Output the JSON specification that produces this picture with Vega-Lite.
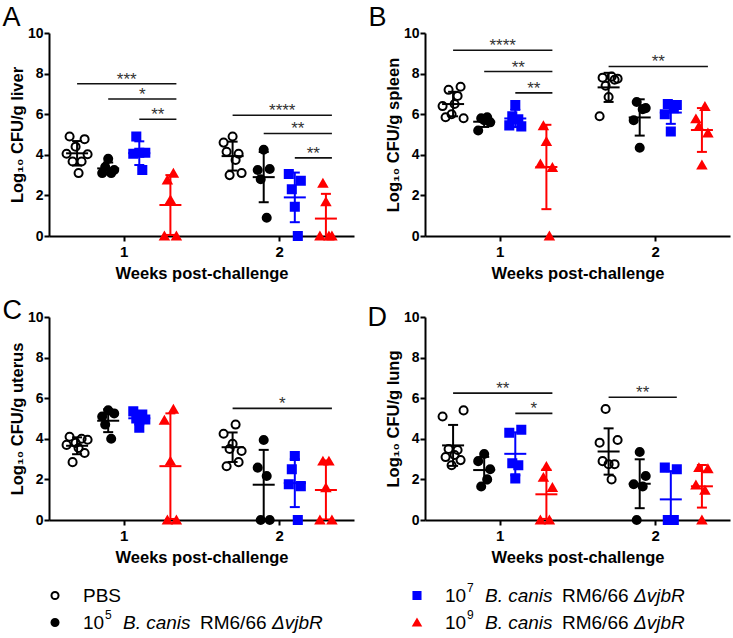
{
  "$schema": "https://vega.github.io/schema/vega-lite/v6.json",
  "padding": {"left": 2, "top": 4, "right": 2, "bottom": 2},
  "background": "white",
  "datasets": {
    "pts": [
      {"panel":"A","week":1,"group":"PBS","animal":1,"value":4.05},{"panel":"A","week":1,"group":"PBS","animal":2,"value":4.9},{"panel":"A","week":1,"group":"PBS","animal":3,"value":3.67},{"panel":"A","week":1,"group":"PBS","animal":4,"value":4.4},{"panel":"A","week":1,"group":"PBS","animal":5,"value":3.1},{"panel":"A","week":1,"group":"PBS","animal":6,"value":3.67},{"panel":"A","week":1,"group":"PBS","animal":7,"value":4.77},{"panel":"A","week":1,"group":"PBS","animal":8,"value":4.03},
      {"panel":"A","week":1,"group":"1e5","animal":1,"value":3.1},{"panel":"A","week":1,"group":"1e5","animal":2,"value":3.4},{"panel":"A","week":1,"group":"1e5","animal":3,"value":3.8},{"panel":"A","week":1,"group":"1e5","animal":4,"value":3.1},{"panel":"A","week":1,"group":"1e5","animal":5,"value":3.25},
      {"panel":"A","week":1,"group":"1e7","animal":1,"value":4.05},{"panel":"A","week":1,"group":"1e7","animal":2,"value":4.9},{"panel":"A","week":1,"group":"1e7","animal":3,"value":4.1},{"panel":"A","week":1,"group":"1e7","animal":4,"value":3.25},{"panel":"A","week":1,"group":"1e7","animal":5,"value":4.1},
      {"panel":"A","week":1,"group":"1e9","animal":1,"value":0},{"panel":"A","week":1,"group":"1e9","animal":2,"value":2.76},{"panel":"A","week":1,"group":"1e9","animal":3,"value":1.78},{"panel":"A","week":1,"group":"1e9","animal":4,"value":3.09},{"panel":"A","week":1,"group":"1e9","animal":5,"value":0},
      {"panel":"A","week":2,"group":"PBS","animal":1,"value":4.6},{"panel":"A","week":2,"group":"PBS","animal":2,"value":4.15},{"panel":"A","week":2,"group":"PBS","animal":3,"value":3.0},{"panel":"A","week":2,"group":"PBS","animal":4,"value":4.9},{"panel":"A","week":2,"group":"PBS","animal":5,"value":3.75},{"panel":"A","week":2,"group":"PBS","animal":6,"value":4.05},{"panel":"A","week":2,"group":"PBS","animal":7,"value":3.1},
      {"panel":"A","week":2,"group":"1e5","animal":1,"value":3.25},{"panel":"A","week":2,"group":"1e5","animal":2,"value":2.8},{"panel":"A","week":2,"group":"1e5","animal":3,"value":4.25},{"panel":"A","week":2,"group":"1e5","animal":4,"value":0.9},{"panel":"A","week":2,"group":"1e5","animal":5,"value":3.3},
      {"panel":"A","week":2,"group":"1e7","animal":1,"value":3.05},{"panel":"A","week":2,"group":"1e7","animal":2,"value":2.3},{"panel":"A","week":2,"group":"1e7","animal":3,"value":1.44},{"panel":"A","week":2,"group":"1e7","animal":4,"value":0},{"panel":"A","week":2,"group":"1e7","animal":5,"value":2.72},
      {"panel":"A","week":2,"group":"1e9","animal":1,"value":0},{"panel":"A","week":2,"group":"1e9","animal":2,"value":2.6},{"panel":"A","week":2,"group":"1e9","animal":3,"value":1.69},{"panel":"A","week":2,"group":"1e9","animal":4,"value":0},{"panel":"A","week":2,"group":"1e9","animal":5,"value":0},

      {"panel":"B","week":1,"group":"PBS","animal":1,"value":6.4},{"panel":"B","week":1,"group":"PBS","animal":2,"value":5.85},{"panel":"B","week":1,"group":"PBS","animal":3,"value":7.2},{"panel":"B","week":1,"group":"PBS","animal":4,"value":6.0},{"panel":"B","week":1,"group":"PBS","animal":5,"value":6.5},{"panel":"B","week":1,"group":"PBS","animal":6,"value":6.9},{"panel":"B","week":1,"group":"PBS","animal":7,"value":7.35},{"panel":"B","week":1,"group":"PBS","animal":8,"value":5.8},
      {"panel":"B","week":1,"group":"1e5","animal":1,"value":5.2},{"panel":"B","week":1,"group":"1e5","animal":2,"value":5.8},{"panel":"B","week":1,"group":"1e5","animal":3,"value":5.7},{"panel":"B","week":1,"group":"1e5","animal":4,"value":5.85},{"panel":"B","week":1,"group":"1e5","animal":5,"value":5.6},
      {"panel":"B","week":1,"group":"1e7","animal":1,"value":5.45},{"panel":"B","week":1,"group":"1e7","animal":2,"value":5.9},{"panel":"B","week":1,"group":"1e7","animal":3,"value":6.45},{"panel":"B","week":1,"group":"1e7","animal":4,"value":5.75},{"panel":"B","week":1,"group":"1e7","animal":5,"value":5.4},
      {"panel":"B","week":1,"group":"1e9","animal":1,"value":3.55},{"panel":"B","week":1,"group":"1e9","animal":2,"value":5.43},{"panel":"B","week":1,"group":"1e9","animal":3,"value":4.65},{"panel":"B","week":1,"group":"1e9","animal":4,"value":0},{"panel":"B","week":1,"group":"1e9","animal":5,"value":3.37},
      {"panel":"B","week":2,"group":"PBS","animal":1,"value":5.9},{"panel":"B","week":2,"group":"PBS","animal":2,"value":7.8},{"panel":"B","week":2,"group":"PBS","animal":3,"value":7.4},{"panel":"B","week":2,"group":"PBS","animal":4,"value":6.85},{"panel":"B","week":2,"group":"PBS","animal":5,"value":7.85},{"panel":"B","week":2,"group":"PBS","animal":6,"value":7.7},{"panel":"B","week":2,"group":"PBS","animal":7,"value":7.75},
      {"panel":"B","week":2,"group":"1e5","animal":1,"value":5.7},{"panel":"B","week":2,"group":"1e5","animal":2,"value":6.6},{"panel":"B","week":2,"group":"1e5","animal":3,"value":4.35},{"panel":"B","week":2,"group":"1e5","animal":4,"value":6.25},{"panel":"B","week":2,"group":"1e5","animal":5,"value":6.3},
      {"panel":"B","week":2,"group":"1e7","animal":1,"value":6.0},{"panel":"B","week":2,"group":"1e7","animal":2,"value":6.5},{"panel":"B","week":2,"group":"1e7","animal":3,"value":5.15},{"panel":"B","week":2,"group":"1e7","animal":4,"value":6.3},{"panel":"B","week":2,"group":"1e7","animal":5,"value":6.45},
      {"panel":"B","week":2,"group":"1e9","animal":1,"value":5.77},{"panel":"B","week":2,"group":"1e9","animal":2,"value":5.39},{"panel":"B","week":2,"group":"1e9","animal":3,"value":3.5},{"panel":"B","week":2,"group":"1e9","animal":4,"value":6.38},{"panel":"B","week":2,"group":"1e9","animal":5,"value":5.07},

      {"panel":"C","week":1,"group":"PBS","animal":1,"value":3.7},{"panel":"C","week":1,"group":"PBS","animal":2,"value":4.1},{"panel":"C","week":1,"group":"PBS","animal":3,"value":2.85},{"panel":"C","week":1,"group":"PBS","animal":4,"value":3.8},{"panel":"C","week":1,"group":"PBS","animal":5,"value":3.55},{"panel":"C","week":1,"group":"PBS","animal":6,"value":4.0},{"panel":"C","week":1,"group":"PBS","animal":7,"value":3.3},{"panel":"C","week":1,"group":"PBS","animal":8,"value":3.95},
      {"panel":"C","week":1,"group":"1e5","animal":1,"value":5.1},{"panel":"C","week":1,"group":"1e5","animal":2,"value":4.7},{"panel":"C","week":1,"group":"1e5","animal":3,"value":5.4},{"panel":"C","week":1,"group":"1e5","animal":4,"value":4.0},{"panel":"C","week":1,"group":"1e5","animal":5,"value":5.25},
      {"panel":"C","week":1,"group":"1e7","animal":1,"value":5.35},{"panel":"C","week":1,"group":"1e7","animal":2,"value":5.0},{"panel":"C","week":1,"group":"1e7","animal":3,"value":4.55},{"panel":"C","week":1,"group":"1e7","animal":4,"value":5.2},{"panel":"C","week":1,"group":"1e7","animal":5,"value":4.95},
      {"panel":"C","week":1,"group":"1e9","animal":1,"value":4.91},{"panel":"C","week":1,"group":"1e9","animal":2,"value":0},{"panel":"C","week":1,"group":"1e9","animal":3,"value":2.9},{"panel":"C","week":1,"group":"1e9","animal":4,"value":5.45},{"panel":"C","week":1,"group":"1e9","animal":5,"value":0},
      {"panel":"C","week":2,"group":"PBS","animal":1,"value":4.25},{"panel":"C","week":2,"group":"PBS","animal":2,"value":2.65},{"panel":"C","week":2,"group":"PBS","animal":3,"value":3.5},{"panel":"C","week":2,"group":"PBS","animal":4,"value":3.75},{"panel":"C","week":2,"group":"PBS","animal":5,"value":4.7},{"panel":"C","week":2,"group":"PBS","animal":6,"value":2.85},{"panel":"C","week":2,"group":"PBS","animal":7,"value":3.4},
      {"panel":"C","week":2,"group":"1e5","animal":1,"value":2.58},{"panel":"C","week":2,"group":"1e5","animal":2,"value":0},{"panel":"C","week":2,"group":"1e5","animal":3,"value":3.94},{"panel":"C","week":2,"group":"1e5","animal":4,"value":2.17},{"panel":"C","week":2,"group":"1e5","animal":5,"value":0},
      {"panel":"C","week":2,"group":"1e7","animal":1,"value":1.76},{"panel":"C","week":2,"group":"1e7","animal":2,"value":2.5},{"panel":"C","week":2,"group":"1e7","animal":3,"value":3.15},{"panel":"C","week":2,"group":"1e7","animal":4,"value":0},{"panel":"C","week":2,"group":"1e7","animal":5,"value":1.67},
      {"panel":"C","week":2,"group":"1e9","animal":1,"value":0},{"panel":"C","week":2,"group":"1e9","animal":2,"value":2.9},{"panel":"C","week":2,"group":"1e9","animal":3,"value":1.59},{"panel":"C","week":2,"group":"1e9","animal":4,"value":2.9},{"panel":"C","week":2,"group":"1e9","animal":5,"value":0},

      {"panel":"D","week":1,"group":"PBS","animal":1,"value":5.1},{"panel":"D","week":1,"group":"PBS","animal":2,"value":3.1},{"panel":"D","week":1,"group":"PBS","animal":3,"value":3.5},{"panel":"D","week":1,"group":"PBS","animal":4,"value":2.7},{"panel":"D","week":1,"group":"PBS","animal":5,"value":3.2},{"panel":"D","week":1,"group":"PBS","animal":6,"value":3.45},{"panel":"D","week":1,"group":"PBS","animal":7,"value":2.95},{"panel":"D","week":1,"group":"PBS","animal":8,"value":5.4},
      {"panel":"D","week":1,"group":"1e5","animal":1,"value":2.9},{"panel":"D","week":1,"group":"1e5","animal":2,"value":1.65},{"panel":"D","week":1,"group":"1e5","animal":3,"value":3.25},{"panel":"D","week":1,"group":"1e5","animal":4,"value":2.0},{"panel":"D","week":1,"group":"1e5","animal":5,"value":2.5},
      {"panel":"D","week":1,"group":"1e7","animal":1,"value":4.3},{"panel":"D","week":1,"group":"1e7","animal":2,"value":2.8},{"panel":"D","week":1,"group":"1e7","animal":3,"value":2.05},{"panel":"D","week":1,"group":"1e7","animal":4,"value":2.7},{"panel":"D","week":1,"group":"1e7","animal":5,"value":4.45},
      {"panel":"D","week":1,"group":"1e9","animal":1,"value":0},{"panel":"D","week":1,"group":"1e9","animal":2,"value":2.1},{"panel":"D","week":1,"group":"1e9","animal":3,"value":2.63},{"panel":"D","week":1,"group":"1e9","animal":4,"value":0},{"panel":"D","week":1,"group":"1e9","animal":5,"value":1.6},
      {"panel":"D","week":2,"group":"PBS","animal":1,"value":3.81},{"panel":"D","week":2,"group":"PBS","animal":2,"value":2.9},{"panel":"D","week":2,"group":"PBS","animal":3,"value":5.47},{"panel":"D","week":2,"group":"PBS","animal":4,"value":2.75},{"panel":"D","week":2,"group":"PBS","animal":5,"value":2.0},{"panel":"D","week":2,"group":"PBS","animal":6,"value":2.75},{"panel":"D","week":2,"group":"PBS","animal":7,"value":3.94},
      {"panel":"D","week":2,"group":"1e5","animal":1,"value":1.76},{"panel":"D","week":2,"group":"1e5","animal":2,"value":0},{"panel":"D","week":2,"group":"1e5","animal":3,"value":3.35},{"panel":"D","week":2,"group":"1e5","animal":4,"value":1.65},{"panel":"D","week":2,"group":"1e5","animal":5,"value":2.17},
      {"panel":"D","week":2,"group":"1e7","animal":1,"value":2.58},{"panel":"D","week":2,"group":"1e7","animal":2,"value":0},{"panel":"D","week":2,"group":"1e7","animal":3,"value":0},{"panel":"D","week":2,"group":"1e7","animal":4,"value":0},{"panel":"D","week":2,"group":"1e7","animal":5,"value":2.5},
      {"panel":"D","week":2,"group":"1e9","animal":1,"value":1.72},{"panel":"D","week":2,"group":"1e9","animal":2,"value":2.58},{"panel":"D","week":2,"group":"1e9","animal":3,"value":0},{"panel":"D","week":2,"group":"1e9","animal":4,"value":1.47},{"panel":"D","week":2,"group":"1e9","animal":5,"value":2.53}
    ],
    "sig": [
      {"panel":"A","week":1,"from":"PBS","to":"1e9","level":7.5,"label":"***"},
      {"panel":"A","week":1,"from":"1e5","to":"1e9","level":6.75,"label":"*"},
      {"panel":"A","week":1,"from":"1e7","to":"1e9","level":5.75,"label":"**"},
      {"panel":"A","week":2,"from":"PBS","to":"1e9","level":5.95,"label":"****"},
      {"panel":"A","week":2,"from":"1e5","to":"1e9","level":5.05,"label":"**"},
      {"panel":"A","week":2,"from":"1e7","to":"1e9","level":3.85,"label":"**"},
      {"panel":"B","week":1,"from":"PBS","to":"1e9","level":9.15,"label":"****"},
      {"panel":"B","week":1,"from":"1e5","to":"1e9","level":8.1,"label":"**"},
      {"panel":"B","week":1,"from":"1e7","to":"1e9","level":7.05,"label":"**"},
      {"panel":"B","week":2,"from":"PBS","to":"1e9","level":8.35,"label":"**"},
      {"panel":"C","week":2,"from":"PBS","to":"1e9","level":5.5,"label":"*"},
      {"panel":"D","week":1,"from":"PBS","to":"1e9","level":6.25,"label":"**"},
      {"panel":"D","week":1,"from":"1e7","to":"1e9","level":5.25,"label":"*"},
      {"panel":"D","week":2,"from":"PBS","to":"1e7","level":6.05,"label":"**"}
    ],
    "legend": [
      {"col":"L","row":0,"group":"PBS","name":"PBS"},
      {"col":"L","row":1,"group":"1e5","dose":"10","exp":"5","species":"B. canis","strain":"RM6/66","mutant":"ΔvjbR"},
      {"col":"R","row":0,"group":"1e7","dose":"10","exp":"7","species":"B. canis","strain":"RM6/66","mutant":"ΔvjbR"},
      {"col":"R","row":1,"group":"1e9","dose":"10","exp":"9","species":"B. canis","strain":"RM6/66","mutant":"ΔvjbR"}
    ]
  },
  "vconcat": [
    {
      "columns": 2,
      "bounds": "flush",
      "spacing": {"row": 81, "column": 71},
      "concat": [
        {
          "width": 305, "height": 203,
          "title": {"text": "A", "anchor": "start", "frame": "bounds", "font": "Liberation Sans", "fontSize": 27, "fontWeight": "normal", "color": "#000", "offset": -6, "dx": -7},
          "layer": [
            {"data": {"name": "pts"},
             "transform": [{"filter": "datum.panel === 'A'"}, {"calculate": "datum.week + '_' + datum.group", "as": "slot"}, {"joinaggregate": [{"op": "count", "as": "n"}], "groupby": ["week", "group"]}, {"calculate": "datum.animal - (datum.n + 1) / 2", "as": "spread"}],
             "mark": {"type": "point", "size": 65, "strokeWidth": 2, "opacity": 1},
             "encoding": {
               "x": {"field": "slot", "type": "ordinal", "scale": {"type": "point", "domain": ["e0","1_PBS","1_s1","1_1e5","1_s2","1_1e7","1_s3","1_1e9","g1","g2","g3","2_PBS","2_s1","2_1e5","2_s2","2_1e7","2_s3","2_1e9","e1"], "padding": 0.806}, "axis": {"values": ["1_s2","2_s2"], "labelExpr": "slice(datum.value, 0, 1)", "title": "Weeks post-challenge"}},
               "xOffset": {"field": "spread", "type": "quantitative", "scale": {"domain": [-4, 4], "range": [-12, 12]}},
               "y": {"field": "value", "type": "quantitative", "scale": {"domain": [0, 10], "nice": false}, "axis": {"values": [0,2,4,6,8,10], "title": "Log₁₀ CFU/g liver"}},
               "color": {"field": "group", "type": "nominal", "scale": {"domain": ["PBS","1e5","1e7","1e9"], "range": ["#000000","#000000","#0000ff","#ff0000"]}, "legend": null},
               "fill": {"field": "group", "type": "nominal", "scale": {"domain": ["PBS","1e5","1e7","1e9"], "range": ["transparent","#000000","#0000ff","#ff0000"]}, "legend": null},
               "shape": {"field": "group", "type": "nominal", "scale": {"domain": ["PBS","1e5","1e7","1e9"], "range": ["circle","circle","square","triangle-up"]}, "legend": null}
             }},
            {"data": {"name": "pts"},
             "transform": [{"filter": "datum.panel === 'A'"}, {"aggregate": [{"op": "mean", "field": "value", "as": "mean"}, {"op": "stdev", "field": "value", "as": "sd"}], "groupby": ["week", "group"]}, {"calculate": "datum.week + '_' + datum.group", "as": "slot"}, {"calculate": "datum.mean + datum.sd", "as": "hi"}, {"calculate": "datum.mean - datum.sd", "as": "lo"}],
             "encoding": {
               "x": {"field": "slot", "type": "ordinal", "scale": {"type": "point", "domain": ["e0","1_PBS","1_s1","1_1e5","1_s2","1_1e7","1_s3","1_1e9","g1","g2","g3","2_PBS","2_s1","2_1e5","2_s2","2_1e7","2_s3","2_1e9","e1"], "padding": 0.806}, "axis": {"values": ["1_s2","2_s2"], "labelExpr": "slice(datum.value, 0, 1)", "title": "Weeks post-challenge"}},
               "color": {"field": "group", "type": "nominal", "scale": {"domain": ["PBS","1e5","1e7","1e9"], "range": ["#000000","#000000","#0000ff","#ff0000"]}, "legend": null}
             },
             "layer": [
               {"mark": {"type": "rule", "strokeWidth": 2, "clip": true, "opacity": 1}, "encoding": {"y": {"field": "hi", "type": "quantitative", "scale": {"domain": [0, 10], "nice": false}, "axis": {"values": [0,2,4,6,8,10], "title": "Log₁₀ CFU/g liver"}}, "y2": {"field": "lo"}}},
               {"mark": {"type": "tick", "size": 10, "thickness": 2, "clip": true, "opacity": 1}, "encoding": {"y": {"field": "hi", "type": "quantitative", "scale": {"domain": [0, 10], "nice": false}, "axis": {"values": [0,2,4,6,8,10], "title": "Log₁₀ CFU/g liver"}}}},
               {"mark": {"type": "tick", "size": 10, "thickness": 2, "clip": true, "opacity": 1}, "encoding": {"y": {"field": "lo", "type": "quantitative", "scale": {"domain": [0, 10], "nice": false}, "axis": {"values": [0,2,4,6,8,10], "title": "Log₁₀ CFU/g liver"}}}},
               {"mark": {"type": "tick", "size": 22, "thickness": 2, "opacity": 1}, "encoding": {"y": {"field": "mean", "type": "quantitative", "scale": {"domain": [0, 10], "nice": false}, "axis": {"values": [0,2,4,6,8,10], "title": "Log₁₀ CFU/g liver"}}}}
             ]},
            {"data": {"name": "sig"},
             "transform": [{"filter": "datum.panel === 'A'"}, {"calculate": "datum.week + '_' + datum.from", "as": "s1"}, {"calculate": "datum.week + '_' + datum.to", "as": "s2"}, {"calculate": "datum.week + '_' + ['PBS','s1','1e5','s2','1e7','s3','1e9'][(indexof(['PBS','s1','1e5','s2','1e7','s3','1e9'], datum.from) + indexof(['PBS','s1','1e5','s2','1e7','s3','1e9'], datum.to)) / 2]", "as": "mid"}],
             "layer": [
               {"mark": {"type": "rule", "strokeWidth": 1.6, "color": "#111111", "x2Offset": 6},
                "encoding": {
                  "x": {"field": "s1", "type": "ordinal", "scale": {"type": "point", "domain": ["e0","1_PBS","1_s1","1_1e5","1_s2","1_1e7","1_s3","1_1e9","g1","g2","g3","2_PBS","2_s1","2_1e5","2_s2","2_1e7","2_s3","2_1e9","e1"], "padding": 0.806}, "axis": {"values": ["1_s2","2_s2"], "labelExpr": "slice(datum.value, 0, 1)", "title": "Weeks post-challenge"}},
                  "x2": {"field": "s2"},
                  "y": {"field": "level", "type": "quantitative", "scale": {"domain": [0, 10], "nice": false}, "axis": {"values": [0,2,4,6,8,10], "title": "Log₁₀ CFU/g liver"}}
                }},
               {"mark": {"type": "text", "font": "Liberation Sans", "fontSize": 17, "color": "#333333", "baseline": "alphabetic", "dx": 3, "dy": 1},
                "encoding": {
                  "x": {"field": "mid", "type": "ordinal", "scale": {"type": "point", "domain": ["e0","1_PBS","1_s1","1_1e5","1_s2","1_1e7","1_s3","1_1e9","g1","g2","g3","2_PBS","2_s1","2_1e5","2_s2","2_1e7","2_s3","2_1e9","e1"], "padding": 0.806}, "axis": {"values": ["1_s2","2_s2"], "labelExpr": "slice(datum.value, 0, 1)", "title": "Weeks post-challenge"}},
                  "y": {"field": "level", "type": "quantitative", "scale": {"domain": [0, 10], "nice": false}, "axis": {"values": [0,2,4,6,8,10], "title": "Log₁₀ CFU/g liver"}},
                  "text": {"field": "label"}
                }}
             ]}
          ]
        },
        {
          "width": 305, "height": 203,
          "title": {"text": "B", "anchor": "start", "frame": "bounds", "font": "Liberation Sans", "fontSize": 27, "fontWeight": "normal", "color": "#000", "offset": -6, "dx": -17},
          "layer": [
            {"data": {"name": "pts"},
             "transform": [{"filter": "datum.panel === 'B'"}, {"calculate": "datum.week + '_' + datum.group", "as": "slot"}, {"joinaggregate": [{"op": "count", "as": "n"}], "groupby": ["week", "group"]}, {"calculate": "datum.animal - (datum.n + 1) / 2", "as": "spread"}],
             "mark": {"type": "point", "size": 65, "strokeWidth": 2, "opacity": 1},
             "encoding": {
               "x": {"field": "slot", "type": "ordinal", "scale": {"type": "point", "domain": ["e0","1_PBS","1_s1","1_1e5","1_s2","1_1e7","1_s3","1_1e9","g1","g2","g3","2_PBS","2_s1","2_1e5","2_s2","2_1e7","2_s3","2_1e9","e1"], "padding": 0.806}, "axis": {"values": ["1_s2","2_s2"], "labelExpr": "slice(datum.value, 0, 1)", "title": "Weeks post-challenge"}},
               "xOffset": {"field": "spread", "type": "quantitative", "scale": {"domain": [-4, 4], "range": [-12, 12]}},
               "y": {"field": "value", "type": "quantitative", "scale": {"domain": [0, 10], "nice": false}, "axis": {"values": [0,2,4,6,8,10], "title": "Log₁₀ CFU/g spleen"}},
               "color": {"field": "group", "type": "nominal", "scale": {"domain": ["PBS","1e5","1e7","1e9"], "range": ["#000000","#000000","#0000ff","#ff0000"]}, "legend": null},
               "fill": {"field": "group", "type": "nominal", "scale": {"domain": ["PBS","1e5","1e7","1e9"], "range": ["transparent","#000000","#0000ff","#ff0000"]}, "legend": null},
               "shape": {"field": "group", "type": "nominal", "scale": {"domain": ["PBS","1e5","1e7","1e9"], "range": ["circle","circle","square","triangle-up"]}, "legend": null}
             }},
            {"data": {"name": "pts"},
             "transform": [{"filter": "datum.panel === 'B'"}, {"aggregate": [{"op": "mean", "field": "value", "as": "mean"}, {"op": "stdev", "field": "value", "as": "sd"}], "groupby": ["week", "group"]}, {"calculate": "datum.week + '_' + datum.group", "as": "slot"}, {"calculate": "datum.mean + datum.sd", "as": "hi"}, {"calculate": "datum.mean - datum.sd", "as": "lo"}],
             "encoding": {
               "x": {"field": "slot", "type": "ordinal", "scale": {"type": "point", "domain": ["e0","1_PBS","1_s1","1_1e5","1_s2","1_1e7","1_s3","1_1e9","g1","g2","g3","2_PBS","2_s1","2_1e5","2_s2","2_1e7","2_s3","2_1e9","e1"], "padding": 0.806}, "axis": {"values": ["1_s2","2_s2"], "labelExpr": "slice(datum.value, 0, 1)", "title": "Weeks post-challenge"}},
               "color": {"field": "group", "type": "nominal", "scale": {"domain": ["PBS","1e5","1e7","1e9"], "range": ["#000000","#000000","#0000ff","#ff0000"]}, "legend": null}
             },
             "layer": [
               {"mark": {"type": "rule", "strokeWidth": 2, "clip": true, "opacity": 1}, "encoding": {"y": {"field": "hi", "type": "quantitative", "scale": {"domain": [0, 10], "nice": false}, "axis": {"values": [0,2,4,6,8,10], "title": "Log₁₀ CFU/g spleen"}}, "y2": {"field": "lo"}}},
               {"mark": {"type": "tick", "size": 10, "thickness": 2, "clip": true, "opacity": 1}, "encoding": {"y": {"field": "hi", "type": "quantitative", "scale": {"domain": [0, 10], "nice": false}, "axis": {"values": [0,2,4,6,8,10], "title": "Log₁₀ CFU/g spleen"}}}},
               {"mark": {"type": "tick", "size": 10, "thickness": 2, "clip": true, "opacity": 1}, "encoding": {"y": {"field": "lo", "type": "quantitative", "scale": {"domain": [0, 10], "nice": false}, "axis": {"values": [0,2,4,6,8,10], "title": "Log₁₀ CFU/g spleen"}}}},
               {"mark": {"type": "tick", "size": 22, "thickness": 2, "opacity": 1}, "encoding": {"y": {"field": "mean", "type": "quantitative", "scale": {"domain": [0, 10], "nice": false}, "axis": {"values": [0,2,4,6,8,10], "title": "Log₁₀ CFU/g spleen"}}}}
             ]},
            {"data": {"name": "sig"},
             "transform": [{"filter": "datum.panel === 'B'"}, {"calculate": "datum.week + '_' + datum.from", "as": "s1"}, {"calculate": "datum.week + '_' + datum.to", "as": "s2"}, {"calculate": "datum.week + '_' + ['PBS','s1','1e5','s2','1e7','s3','1e9'][(indexof(['PBS','s1','1e5','s2','1e7','s3','1e9'], datum.from) + indexof(['PBS','s1','1e5','s2','1e7','s3','1e9'], datum.to)) / 2]", "as": "mid"}],
             "layer": [
               {"mark": {"type": "rule", "strokeWidth": 1.6, "color": "#111111", "x2Offset": 6},
                "encoding": {
                  "x": {"field": "s1", "type": "ordinal", "scale": {"type": "point", "domain": ["e0","1_PBS","1_s1","1_1e5","1_s2","1_1e7","1_s3","1_1e9","g1","g2","g3","2_PBS","2_s1","2_1e5","2_s2","2_1e7","2_s3","2_1e9","e1"], "padding": 0.806}, "axis": {"values": ["1_s2","2_s2"], "labelExpr": "slice(datum.value, 0, 1)", "title": "Weeks post-challenge"}},
                  "x2": {"field": "s2"},
                  "y": {"field": "level", "type": "quantitative", "scale": {"domain": [0, 10], "nice": false}, "axis": {"values": [0,2,4,6,8,10], "title": "Log₁₀ CFU/g spleen"}}
                }},
               {"mark": {"type": "text", "font": "Liberation Sans", "fontSize": 17, "color": "#333333", "baseline": "alphabetic", "dx": 3, "dy": 1},
                "encoding": {
                  "x": {"field": "mid", "type": "ordinal", "scale": {"type": "point", "domain": ["e0","1_PBS","1_s1","1_1e5","1_s2","1_1e7","1_s3","1_1e9","g1","g2","g3","2_PBS","2_s1","2_1e5","2_s2","2_1e7","2_s3","2_1e9","e1"], "padding": 0.806}, "axis": {"values": ["1_s2","2_s2"], "labelExpr": "slice(datum.value, 0, 1)", "title": "Weeks post-challenge"}},
                  "y": {"field": "level", "type": "quantitative", "scale": {"domain": [0, 10], "nice": false}, "axis": {"values": [0,2,4,6,8,10], "title": "Log₁₀ CFU/g spleen"}},
                  "text": {"field": "label"}
                }}
             ]}
          ]
        },
        {
          "width": 305, "height": 203,
          "title": {"text": "C", "anchor": "start", "frame": "bounds", "font": "Liberation Sans", "fontSize": 27, "fontWeight": "normal", "color": "#000", "offset": -15, "dx": -7},
          "layer": [
            {"data": {"name": "pts"},
             "transform": [{"filter": "datum.panel === 'C'"}, {"calculate": "datum.week + '_' + datum.group", "as": "slot"}, {"joinaggregate": [{"op": "count", "as": "n"}], "groupby": ["week", "group"]}, {"calculate": "datum.animal - (datum.n + 1) / 2", "as": "spread"}],
             "mark": {"type": "point", "size": 65, "strokeWidth": 2, "opacity": 1},
             "encoding": {
               "x": {"field": "slot", "type": "ordinal", "scale": {"type": "point", "domain": ["e0","1_PBS","1_s1","1_1e5","1_s2","1_1e7","1_s3","1_1e9","g1","g2","g3","2_PBS","2_s1","2_1e5","2_s2","2_1e7","2_s3","2_1e9","e1"], "padding": 0.806}, "axis": {"values": ["1_s2","2_s2"], "labelExpr": "slice(datum.value, 0, 1)", "title": "Weeks post-challenge"}},
               "xOffset": {"field": "spread", "type": "quantitative", "scale": {"domain": [-4, 4], "range": [-12, 12]}},
               "y": {"field": "value", "type": "quantitative", "scale": {"domain": [0, 10], "nice": false}, "axis": {"values": [0,2,4,6,8,10], "title": "Log₁₀ CFU/g uterus"}},
               "color": {"field": "group", "type": "nominal", "scale": {"domain": ["PBS","1e5","1e7","1e9"], "range": ["#000000","#000000","#0000ff","#ff0000"]}, "legend": null},
               "fill": {"field": "group", "type": "nominal", "scale": {"domain": ["PBS","1e5","1e7","1e9"], "range": ["transparent","#000000","#0000ff","#ff0000"]}, "legend": null},
               "shape": {"field": "group", "type": "nominal", "scale": {"domain": ["PBS","1e5","1e7","1e9"], "range": ["circle","circle","square","triangle-up"]}, "legend": null}
             }},
            {"data": {"name": "pts"},
             "transform": [{"filter": "datum.panel === 'C'"}, {"aggregate": [{"op": "mean", "field": "value", "as": "mean"}, {"op": "stdev", "field": "value", "as": "sd"}], "groupby": ["week", "group"]}, {"calculate": "datum.week + '_' + datum.group", "as": "slot"}, {"calculate": "datum.mean + datum.sd", "as": "hi"}, {"calculate": "datum.mean - datum.sd", "as": "lo"}],
             "encoding": {
               "x": {"field": "slot", "type": "ordinal", "scale": {"type": "point", "domain": ["e0","1_PBS","1_s1","1_1e5","1_s2","1_1e7","1_s3","1_1e9","g1","g2","g3","2_PBS","2_s1","2_1e5","2_s2","2_1e7","2_s3","2_1e9","e1"], "padding": 0.806}, "axis": {"values": ["1_s2","2_s2"], "labelExpr": "slice(datum.value, 0, 1)", "title": "Weeks post-challenge"}},
               "color": {"field": "group", "type": "nominal", "scale": {"domain": ["PBS","1e5","1e7","1e9"], "range": ["#000000","#000000","#0000ff","#ff0000"]}, "legend": null}
             },
             "layer": [
               {"mark": {"type": "rule", "strokeWidth": 2, "clip": true, "opacity": 1}, "encoding": {"y": {"field": "hi", "type": "quantitative", "scale": {"domain": [0, 10], "nice": false}, "axis": {"values": [0,2,4,6,8,10], "title": "Log₁₀ CFU/g uterus"}}, "y2": {"field": "lo"}}},
               {"mark": {"type": "tick", "size": 10, "thickness": 2, "clip": true, "opacity": 1}, "encoding": {"y": {"field": "hi", "type": "quantitative", "scale": {"domain": [0, 10], "nice": false}, "axis": {"values": [0,2,4,6,8,10], "title": "Log₁₀ CFU/g uterus"}}}},
               {"mark": {"type": "tick", "size": 10, "thickness": 2, "clip": true, "opacity": 1}, "encoding": {"y": {"field": "lo", "type": "quantitative", "scale": {"domain": [0, 10], "nice": false}, "axis": {"values": [0,2,4,6,8,10], "title": "Log₁₀ CFU/g uterus"}}}},
               {"mark": {"type": "tick", "size": 22, "thickness": 2, "opacity": 1}, "encoding": {"y": {"field": "mean", "type": "quantitative", "scale": {"domain": [0, 10], "nice": false}, "axis": {"values": [0,2,4,6,8,10], "title": "Log₁₀ CFU/g uterus"}}}}
             ]},
            {"data": {"name": "sig"},
             "transform": [{"filter": "datum.panel === 'C'"}, {"calculate": "datum.week + '_' + datum.from", "as": "s1"}, {"calculate": "datum.week + '_' + datum.to", "as": "s2"}, {"calculate": "datum.week + '_' + ['PBS','s1','1e5','s2','1e7','s3','1e9'][(indexof(['PBS','s1','1e5','s2','1e7','s3','1e9'], datum.from) + indexof(['PBS','s1','1e5','s2','1e7','s3','1e9'], datum.to)) / 2]", "as": "mid"}],
             "layer": [
               {"mark": {"type": "rule", "strokeWidth": 1.6, "color": "#111111", "x2Offset": 6},
                "encoding": {
                  "x": {"field": "s1", "type": "ordinal", "scale": {"type": "point", "domain": ["e0","1_PBS","1_s1","1_1e5","1_s2","1_1e7","1_s3","1_1e9","g1","g2","g3","2_PBS","2_s1","2_1e5","2_s2","2_1e7","2_s3","2_1e9","e1"], "padding": 0.806}, "axis": {"values": ["1_s2","2_s2"], "labelExpr": "slice(datum.value, 0, 1)", "title": "Weeks post-challenge"}},
                  "x2": {"field": "s2"},
                  "y": {"field": "level", "type": "quantitative", "scale": {"domain": [0, 10], "nice": false}, "axis": {"values": [0,2,4,6,8,10], "title": "Log₁₀ CFU/g uterus"}}
                }},
               {"mark": {"type": "text", "font": "Liberation Sans", "fontSize": 17, "color": "#333333", "baseline": "alphabetic", "dx": 3, "dy": 1},
                "encoding": {
                  "x": {"field": "mid", "type": "ordinal", "scale": {"type": "point", "domain": ["e0","1_PBS","1_s1","1_1e5","1_s2","1_1e7","1_s3","1_1e9","g1","g2","g3","2_PBS","2_s1","2_1e5","2_s2","2_1e7","2_s3","2_1e9","e1"], "padding": 0.806}, "axis": {"values": ["1_s2","2_s2"], "labelExpr": "slice(datum.value, 0, 1)", "title": "Weeks post-challenge"}},
                  "y": {"field": "level", "type": "quantitative", "scale": {"domain": [0, 10], "nice": false}, "axis": {"values": [0,2,4,6,8,10], "title": "Log₁₀ CFU/g uterus"}},
                  "text": {"field": "label"}
                }}
             ]}
          ]
        },
        {
          "width": 305, "height": 203,
          "title": {"text": "D", "anchor": "start", "frame": "bounds", "font": "Liberation Sans", "fontSize": 27, "fontWeight": "normal", "color": "#000", "offset": -22, "dx": -18},
          "layer": [
            {"data": {"name": "pts"},
             "transform": [{"filter": "datum.panel === 'D'"}, {"calculate": "datum.week + '_' + datum.group", "as": "slot"}, {"joinaggregate": [{"op": "count", "as": "n"}], "groupby": ["week", "group"]}, {"calculate": "datum.animal - (datum.n + 1) / 2", "as": "spread"}],
             "mark": {"type": "point", "size": 65, "strokeWidth": 2, "opacity": 1},
             "encoding": {
               "x": {"field": "slot", "type": "ordinal", "scale": {"type": "point", "domain": ["e0","1_PBS","1_s1","1_1e5","1_s2","1_1e7","1_s3","1_1e9","g1","g2","g3","2_PBS","2_s1","2_1e5","2_s2","2_1e7","2_s3","2_1e9","e1"], "padding": 0.806}, "axis": {"values": ["1_s2","2_s2"], "labelExpr": "slice(datum.value, 0, 1)", "title": "Weeks post-challenge"}},
               "xOffset": {"field": "spread", "type": "quantitative", "scale": {"domain": [-4, 4], "range": [-12, 12]}},
               "y": {"field": "value", "type": "quantitative", "scale": {"domain": [0, 10], "nice": false}, "axis": {"values": [0,2,4,6,8,10], "title": "Log₁₀ CFU/g lung"}},
               "color": {"field": "group", "type": "nominal", "scale": {"domain": ["PBS","1e5","1e7","1e9"], "range": ["#000000","#000000","#0000ff","#ff0000"]}, "legend": null},
               "fill": {"field": "group", "type": "nominal", "scale": {"domain": ["PBS","1e5","1e7","1e9"], "range": ["transparent","#000000","#0000ff","#ff0000"]}, "legend": null},
               "shape": {"field": "group", "type": "nominal", "scale": {"domain": ["PBS","1e5","1e7","1e9"], "range": ["circle","circle","square","triangle-up"]}, "legend": null}
             }},
            {"data": {"name": "pts"},
             "transform": [{"filter": "datum.panel === 'D'"}, {"aggregate": [{"op": "mean", "field": "value", "as": "mean"}, {"op": "stdev", "field": "value", "as": "sd"}], "groupby": ["week", "group"]}, {"calculate": "datum.week + '_' + datum.group", "as": "slot"}, {"calculate": "datum.mean + datum.sd", "as": "hi"}, {"calculate": "datum.mean - datum.sd", "as": "lo"}],
             "encoding": {
               "x": {"field": "slot", "type": "ordinal", "scale": {"type": "point", "domain": ["e0","1_PBS","1_s1","1_1e5","1_s2","1_1e7","1_s3","1_1e9","g1","g2","g3","2_PBS","2_s1","2_1e5","2_s2","2_1e7","2_s3","2_1e9","e1"], "padding": 0.806}, "axis": {"values": ["1_s2","2_s2"], "labelExpr": "slice(datum.value, 0, 1)", "title": "Weeks post-challenge"}},
               "color": {"field": "group", "type": "nominal", "scale": {"domain": ["PBS","1e5","1e7","1e9"], "range": ["#000000","#000000","#0000ff","#ff0000"]}, "legend": null}
             },
             "layer": [
               {"mark": {"type": "rule", "strokeWidth": 2, "clip": true, "opacity": 1}, "encoding": {"y": {"field": "hi", "type": "quantitative", "scale": {"domain": [0, 10], "nice": false}, "axis": {"values": [0,2,4,6,8,10], "title": "Log₁₀ CFU/g lung"}}, "y2": {"field": "lo"}}},
               {"mark": {"type": "tick", "size": 10, "thickness": 2, "clip": true, "opacity": 1}, "encoding": {"y": {"field": "hi", "type": "quantitative", "scale": {"domain": [0, 10], "nice": false}, "axis": {"values": [0,2,4,6,8,10], "title": "Log₁₀ CFU/g lung"}}}},
               {"mark": {"type": "tick", "size": 10, "thickness": 2, "clip": true, "opacity": 1}, "encoding": {"y": {"field": "lo", "type": "quantitative", "scale": {"domain": [0, 10], "nice": false}, "axis": {"values": [0,2,4,6,8,10], "title": "Log₁₀ CFU/g lung"}}}},
               {"mark": {"type": "tick", "size": 22, "thickness": 2, "opacity": 1}, "encoding": {"y": {"field": "mean", "type": "quantitative", "scale": {"domain": [0, 10], "nice": false}, "axis": {"values": [0,2,4,6,8,10], "title": "Log₁₀ CFU/g lung"}}}}
             ]},
            {"data": {"name": "sig"},
             "transform": [{"filter": "datum.panel === 'D'"}, {"calculate": "datum.week + '_' + datum.from", "as": "s1"}, {"calculate": "datum.week + '_' + datum.to", "as": "s2"}, {"calculate": "datum.week + '_' + ['PBS','s1','1e5','s2','1e7','s3','1e9'][(indexof(['PBS','s1','1e5','s2','1e7','s3','1e9'], datum.from) + indexof(['PBS','s1','1e5','s2','1e7','s3','1e9'], datum.to)) / 2]", "as": "mid"}],
             "layer": [
               {"mark": {"type": "rule", "strokeWidth": 1.6, "color": "#111111", "x2Offset": 6},
                "encoding": {
                  "x": {"field": "s1", "type": "ordinal", "scale": {"type": "point", "domain": ["e0","1_PBS","1_s1","1_1e5","1_s2","1_1e7","1_s3","1_1e9","g1","g2","g3","2_PBS","2_s1","2_1e5","2_s2","2_1e7","2_s3","2_1e9","e1"], "padding": 0.806}, "axis": {"values": ["1_s2","2_s2"], "labelExpr": "slice(datum.value, 0, 1)", "title": "Weeks post-challenge"}},
                  "x2": {"field": "s2"},
                  "y": {"field": "level", "type": "quantitative", "scale": {"domain": [0, 10], "nice": false}, "axis": {"values": [0,2,4,6,8,10], "title": "Log₁₀ CFU/g lung"}}
                }},
               {"mark": {"type": "text", "font": "Liberation Sans", "fontSize": 17, "color": "#333333", "baseline": "alphabetic", "dx": 3, "dy": 1},
                "encoding": {
                  "x": {"field": "mid", "type": "ordinal", "scale": {"type": "point", "domain": ["e0","1_PBS","1_s1","1_1e5","1_s2","1_1e7","1_s3","1_1e9","g1","g2","g3","2_PBS","2_s1","2_1e5","2_s2","2_1e7","2_s3","2_1e9","e1"], "padding": 0.806}, "axis": {"values": ["1_s2","2_s2"], "labelExpr": "slice(datum.value, 0, 1)", "title": "Weeks post-challenge"}},
                  "y": {"field": "level", "type": "quantitative", "scale": {"domain": [0, 10], "nice": false}, "axis": {"values": [0,2,4,6,8,10], "title": "Log₁₀ CFU/g lung"}},
                  "text": {"field": "label"}
                }}
             ]}
          ]
        }
      ]
    },
    {
      "width": 374, "height": 54,
      "data": {"name": "legend"},
      "encoding": {
        "x": {"field": "col", "type": "nominal", "scale": {"type": "point", "domain": ["L","R"], "padding": 0.0166}, "axis": null},
        "y": {"field": "row", "type": "ordinal", "scale": {"type": "point", "domain": [0, 1], "padding": 0.5}, "axis": null}
      },
      "layer": [
        {"mark": {"type": "point", "size": 50, "strokeWidth": 2, "opacity": 1},
         "encoding": {
           "color": {"field": "group", "type": "nominal", "scale": {"domain": ["PBS","1e5","1e7","1e9"], "range": ["#000000","#000000","#0000ff","#ff0000"]}, "legend": null},
           "fill": {"field": "group", "type": "nominal", "scale": {"domain": ["PBS","1e5","1e7","1e9"], "range": ["transparent","#000000","#0000ff","#ff0000"]}, "legend": null},
           "shape": {"field": "group", "type": "nominal", "scale": {"domain": ["PBS","1e5","1e7","1e9"], "range": ["circle","circle","square","triangle-up"]}, "legend": null}
         }},
        {"transform": [{"filter": "isValid(datum.name)"}], "mark": {"type": "text", "align": "left", "baseline": "middle", "font": "Liberation Sans", "fontSize": 19, "color": "#000", "dx": 28}, "encoding": {"text": {"field": "name"}}},
        {"transform": [{"filter": "isValid(datum.dose)"}], "mark": {"type": "text", "align": "left", "baseline": "middle", "font": "Liberation Sans", "fontSize": 19, "color": "#000", "dx": 28}, "encoding": {"text": {"field": "dose"}}},
        {"transform": [{"filter": "isValid(datum.exp)"}], "mark": {"type": "text", "align": "left", "baseline": "middle", "font": "Liberation Sans", "fontSize": 12, "color": "#000", "dx": 50, "dy": -8}, "encoding": {"text": {"field": "exp"}}},
        {"transform": [{"filter": "isValid(datum.species)"}], "mark": {"type": "text", "align": "left", "baseline": "middle", "font": "Liberation Sans", "fontStyle": "italic", "fontSize": 19, "color": "#000", "dx": 68}, "encoding": {"text": {"field": "species"}}},
        {"transform": [{"filter": "isValid(datum.strain)"}], "mark": {"type": "text", "align": "left", "baseline": "middle", "font": "Liberation Sans", "fontSize": 19, "color": "#000", "dx": 145}, "encoding": {"text": {"field": "strain"}}},
        {"transform": [{"filter": "isValid(datum.mutant)"}], "mark": {"type": "text", "align": "left", "baseline": "middle", "font": "Liberation Sans", "fontStyle": "italic", "fontSize": 19, "color": "#000", "dx": 217}, "encoding": {"text": {"field": "mutant"}}}
      ]
    }
  ],
  "spacing": 15,
  "config": {
    "view": {"stroke": null},
    "font": "Liberation Sans",
    "axis": {"grid": false, "domainColor": "#000000", "domainWidth": 2, "tickColor": "#000000", "tickWidth": 2, "tickSize": 5, "labelColor": "#000000", "labelFont": "Liberation Sans", "labelFontWeight": "bold", "labelFontSize": 15, "labelPadding": 2, "titleColor": "#000000", "titleFont": "Liberation Sans", "titleFontWeight": "bold", "titleFontSize": 16.5},
    "axisX": {"labelAngle": 0, "titlePadding": 6, "labelPadding": 3},
    "axisY": {"titlePadding": 2, "labelPadding": 1, "labelFontSize": 14}
  }
}
